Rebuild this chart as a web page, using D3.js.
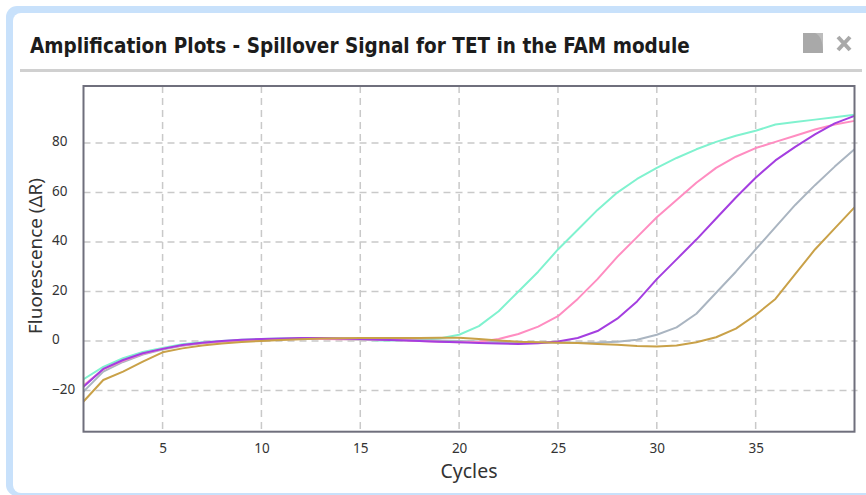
<!DOCTYPE html>
<html>
<head>
<meta charset="utf-8">
<script src="https://cdn.jsdelivr.net/npm/d3@7"></script>
<style>
  html, body { margin: 0; padding: 0; background: #fff; }
  svg { display: block; }
</style>
</head>
<body>
<svg id="chart" width="866" height="495"></svg>
<script>
// ---- Data ----
const titleText = "Amplification Plots - Spillover Signal for TET in the FAM module";
const xLabel = "Cycles";
const yLabel = "Fluorescence (\u0394R)";
const cycles = d3.range(1, 41);
const xTicks = [5, 10, 15, 20, 25, 30, 35];
const yTicks = [-20, 0, 20, 40, 60, 80];

const aquaValues = [-15.5, -10.5, -7, -4.5, -2.8, -1.3, -0.5, 0, 0.5, 0.8,
  1, 1, 1, 0.8, 0.5, 0.2, 0.2, 0.5, 1, 2.5,
  6, 12, 20, 28, 37, 45, 53, 60, 65.5, 70,
  74, 77.5, 80.5, 83, 85, 87.5, 88.5, 89.5, 90.5, 91.5];
const pinkValues = [-18, -11.5, -8, -5.2, -3.2, -1.8, -0.8, -0.2, 0.2, 0.5,
  0.7, 0.8, 0.8, 0.7, 0.6, 0.5, 0.3, 0, -0.3, -0.5,
  -0.3, 0.8, 2.8, 5.8, 10, 17, 25, 34, 42, 50,
  57, 64, 70, 74.5, 78, 80.5, 83, 85.5, 87.5, 89];
const purpleValues = [-18.5, -11.3, -7.7, -5, -3.2, -1.6, -0.7, 0, 0.5, 0.8,
  1, 1.2, 1.2, 1, 0.8, 0.5, 0.3, 0, -0.3, -0.5,
  -0.8, -1, -1.2, -0.9, -0.2, 1.2, 4, 9, 16, 25,
  33, 41, 49.5, 58, 66, 73, 78.5, 83.5, 88, 91];
const grayValues = [-20.5, -12.4, -8.5, -5.5, -3.5, -1.9, -0.9, -0.3, 0.3, 0.6,
  0.8, 1, 1, 1, 0.9, 0.8, 0.6, 0.4, 0.2, 0,
  -0.2, -0.4, -0.5, -0.6, -0.6, -0.7, -0.6, -0.3, 0.5, 2.5,
  5.5, 11, 19.5, 28, 37, 46, 55, 63, 70.5, 77.5];
const goldValues = [-24.5, -15.8, -12.4, -8.4, -4.6, -3, -1.8, -1, -0.4, 0,
  0.4, 0.7, 1, 1.1, 1.2, 1.2, 1.2, 1.2, 1.3, 1.3,
  0.8, 0.2, -0.3, -0.5, -0.7, -0.8, -1.2, -1.5, -2, -2.2,
  -1.8, -0.5, 1.5, 5, 10.5, 17, 27, 37, 45.5, 54];

const seriesNames = ["Aqua", "Gray", "Pink", "Purple", "Gold"];
const seriesColors = ["#80f2cf", "#aab5c1", "#ff8dc1", "#a43ee0", "#c9a148"];
const seriesValues = [aquaValues, grayValues, pinkValues, purpleValues, goldValues];

// ---- Layout ----
const svg = d3.select("#chart");
const plot = { left: 83.5, right: 854.5, top: 86, bottom: 431.7 };
const labelFont = "'Noto Sans', 'Open Sans', sans-serif";

function fitText(sel, baseSize, targetWidth) {
  const w = sel.node().getComputedTextLength();
  if (w > 0) sel.style("font-size", (baseSize * targetWidth / w).toFixed(2) + "px");
}

// Frame
svg.append("rect").attr("x", 6).attr("y", 6).attr("width", 880).attr("height", 490)
  .attr("rx", 11).attr("fill", "#c8e1fb");
svg.append("rect").attr("x", 13).attr("y", 13).attr("width", 870).attr("height", 480)
  .attr("rx", 8).attr("fill", "#ffffff");

// Title
const title = svg.append("text").attr("x", 30).attr("y", 53)
  .attr("fill", "#1c1c1c")
  .style("font-family", "'DejaVu Sans Condensed', 'DejaVu Sans', sans-serif")
  .style("font-stretch", "condensed")
  .style("font-weight", "bold")
  .style("font-size", "19px")
  .text(titleText);
fitText(title, 19, 660);

// Separator
svg.append("line").attr("x1", 20).attr("x2", 862).attr("y1", 70.5).attr("y2", 70.5)
  .attr("stroke", "#d0d0d0").attr("stroke-width", 3);

// Icons
svg.append("rect").attr("x", 803).attr("y", 33).attr("width", 20).attr("height", 20)
  .attr("fill", "#a9a9a9");
svg.append("path").attr("d", "M815,33 Q823,36 823,53 L823,33 Z").attr("fill", "#bdbdbd");
svg.append("path").attr("d", "M838,37 L850,50 M850,37 L838,50")
  .attr("stroke", "#a9a9a9").attr("stroke-width", 4).attr("fill", "none");

// Scales
const x = d3.scaleLinear().domain([1, 40]).range([plot.left, plot.right]);
const y = d3.scaleLinear().domain([-36.7, 103.1]).range([plot.bottom, plot.top]);

// Grid
const grid = svg.append("g");
grid.selectAll("line.vx").data(xTicks).join("line")
  .attr("x1", d => x(d)).attr("x2", d => x(d))
  .attr("y1", plot.top).attr("y2", plot.bottom)
  .attr("stroke", "#c9c9c9").attr("stroke-width", 1.5).attr("stroke-dasharray", "7,5");
grid.selectAll("line.hy").data(yTicks).join("line")
  .attr("x1", plot.left).attr("x2", plot.right + 3)
  .attr("y1", d => y(d)).attr("y2", d => y(d))
  .attr("stroke", "#c9c9c9").attr("stroke-width", 1.5).attr("stroke-dasharray", "7,5");

// Lines
const line = d3.line().x((d, i) => x(cycles[i])).y(d => y(d));
svg.append("g").selectAll("path").data(seriesValues).join("path")
  .attr("d", d => line(d))
  .attr("fill", "none")
  .attr("stroke", (d, i) => seriesColors[i])
  .attr("stroke-width", 2)
  .attr("stroke-linejoin", "round");

// Border
svg.append("rect").attr("x", plot.left).attr("y", plot.top)
  .attr("width", plot.right - plot.left).attr("height", plot.bottom - plot.top)
  .attr("fill", "none").attr("stroke", "#6f6f7c").attr("stroke-width", 2);

// Axes (labels only)
const xAxis = d3.axisBottom(x).tickValues(xTicks).tickSize(0).tickPadding(12);
const gx = svg.append("g").attr("transform", `translate(0,${plot.bottom})`).call(xAxis);
gx.select(".domain").remove();
gx.selectAll("text").attr("fill", "#333")
  .style("font-family", labelFont).style("font-size", "13.5px");

const yAxis = d3.axisLeft(y).tickValues(yTicks).tickSize(0);
const gy = svg.append("g").attr("transform", `translate(${plot.left},0)`).call(yAxis);
gy.select(".domain").remove();
gy.selectAll("text").attr("x", 52 - plot.left).attr("dy", "0.2em")
  .attr("text-anchor", "start").attr("fill", "#333")
  .style("font-family", labelFont).style("font-size", "13.5px");

// Axis titles
const xt = svg.append("text").attr("x", 469).attr("y", 478).attr("text-anchor", "middle")
  .attr("fill", "#333")
  .style("font-family", labelFont).style("font-size", "16px")
  .text(xLabel);
fitText(xt, 16, 57);
const yt = svg.append("text").attr("transform", "translate(42,256) rotate(-90)")
  .attr("text-anchor", "middle").attr("fill", "#333")
  .style("font-family", labelFont).style("font-size", "16px")
  .text(yLabel);
fitText(yt, 16, 156);
</script>
</body>
</html>
